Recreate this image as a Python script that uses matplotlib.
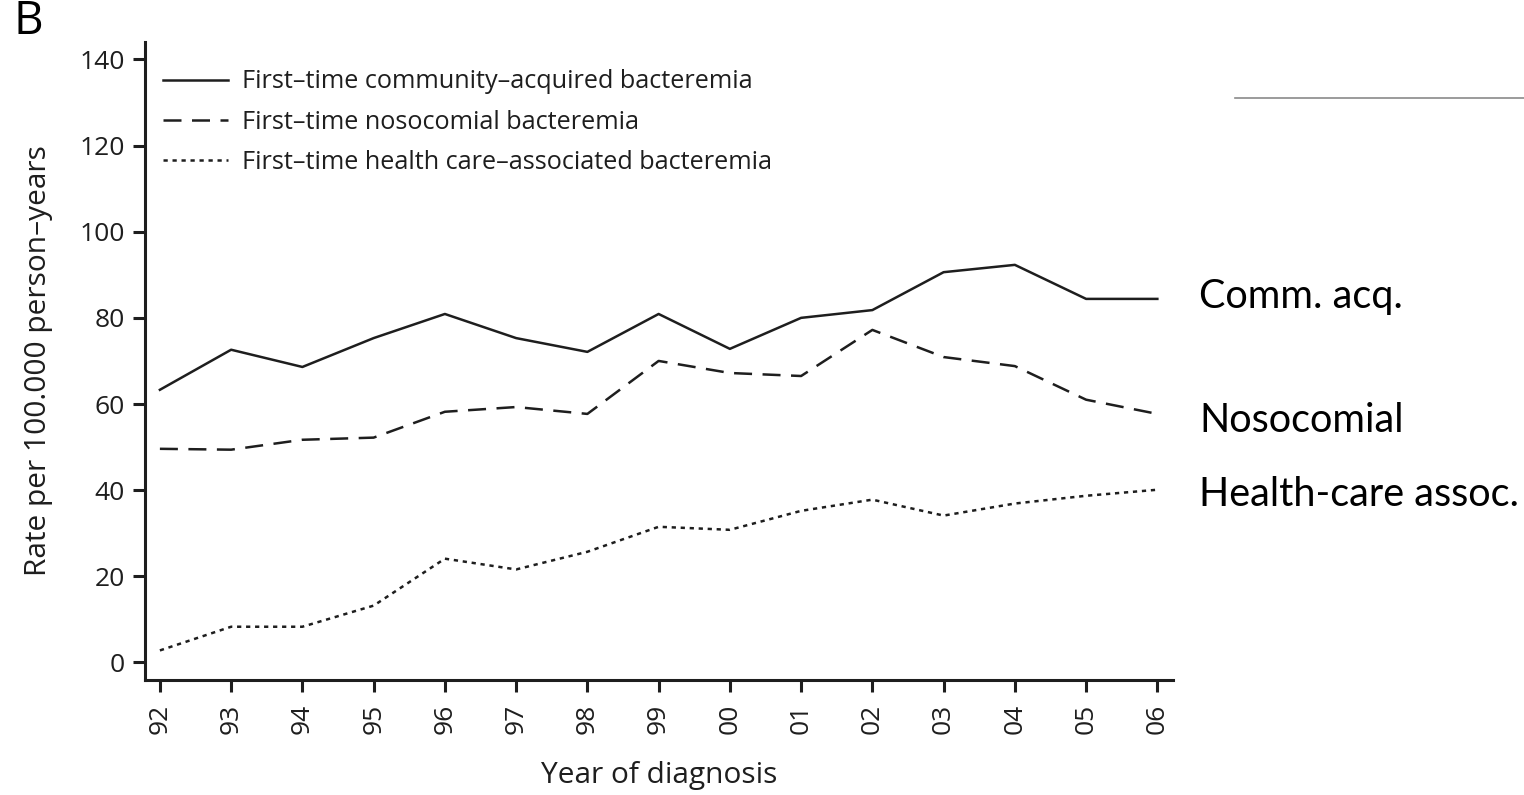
import matplotlib
matplotlib.use("Agg")
import matplotlib.pyplot as plt

years = ["92", "93", "94", "95", "96", "97", "98", "99", "00", "01", "02", "03", "04", "05", "06"]
community = [63.3, 72.6, 68.6, 75.3, 80.9, 75.3, 72.1, 80.9, 72.8, 80.0, 81.8, 90.6, 92.3, 84.4, 84.4]
nosocomial = [49.6, 49.4, 51.7, 52.2, 58.2, 59.3, 57.7, 70.0, 67.2, 66.5, 77.2, 70.9, 68.8, 61.0, 57.7]
healthcare = [2.8, 8.3, 8.3, 13.2, 24.1, 21.6, 25.7, 31.5, 30.8, 35.2, 37.8, 34.1, 36.9, 38.7, 40.1]

legend_labels = ["First\u2013time community\u2013acquired bacteremia",
                 "First\u2013time nosocomial bacteremia",
                 "First\u2013time health care\u2013associated bacteremia"]
side_labels = ["Comm. acq.", "Nosocomial", "Health-care assoc."]

plt.rcParams["font.family"] = ["Open Sans", "DejaVu Sans"]
ink = "#1e1e1e"

fig = plt.figure(figsize=(15.24, 7.95), dpi=100)
ax = fig.add_axes([0.0951, 0.145, 0.6746, 0.802])

x = list(range(len(years)))
lw = 1.8
ax.plot(x, community, color=ink, lw=lw, label=legend_labels[0])
ax.plot(x, nosocomial, color=ink, lw=lw, linestyle=(0, (7.2, 4.2)), label=legend_labels[1])
ax.plot(x, healthcare, color=ink, lw=lw, linestyle=(0, (1.7, 1.9)), label=legend_labels[2])

ax.set_xlim(-0.21, 14.22)
ax.set_ylim(-4, 144)
ax.set_xticks(x)
ax.set_xticklabels(years, rotation=90)
ax.set_yticks(range(0, 141, 20))

for side in ["top", "right"]:
    ax.spines[side].set_visible(False)
for side in ["left", "bottom"]:
    ax.spines[side].set_linewidth(2.2)
    ax.spines[side].set_color(ink)
ax.tick_params(direction="out", length=8.5, width=2.2, color=ink,
               labelsize=19, labelcolor=ink)
ax.tick_params(axis="x", pad=9)
ax.tick_params(axis="y", pad=6)

ax.set_xlabel("Year of diagnosis", fontsize=21.5, color=ink, labelpad=19)
ax.set_ylabel("Rate per 100.000 person\u2013years", fontsize=21.5, color=ink, labelpad=19)

leg = ax.legend(loc="upper left", bbox_to_anchor=(-0.005, 0.993), frameon=False,
                fontsize=18.2, handlelength=2.6, handletextpad=0.55, labelspacing=0.6)
for t in leg.get_texts():
    t.set_color(ink)

# labels to the right of the line ends
side_y = [297, 420, 495]
for label, yp in zip(side_labels, side_y):
    fig.text(0.787, 1 - yp / 795, label, fontsize=28.5, family=["Lato", "DejaVu Sans"],
             va="center", ha="left", color="black")

fig.text(0.009, 1 - 22 / 795, "B", fontsize=33, va="center", ha="left", color="black")
fig.add_artist(plt.Line2D([1235 / 1524, 1.0], [1 - 98 / 795] * 2, color="#8a8a8a", lw=1.2))

fig.savefig("out.png", dpi=100)
